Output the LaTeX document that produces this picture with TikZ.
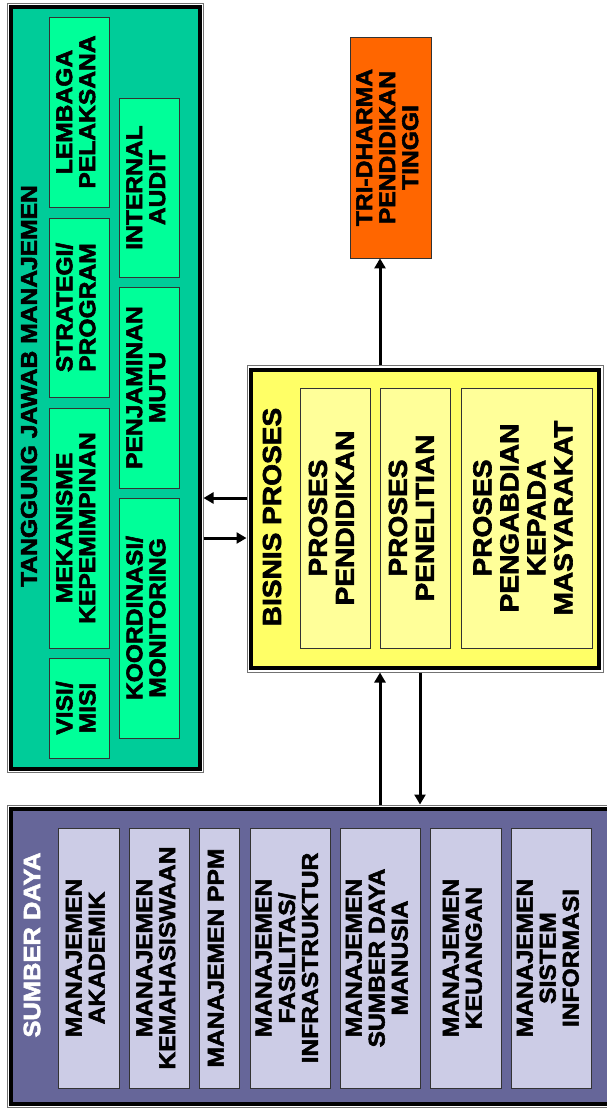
\documentclass[tikz,border=0pt]{standalone}
\usepackage{fontspec}
\usepackage{graphicx}
\usetikzlibrary{arrows.meta}
\newfontfamily\lab{Liberation Sans}[FakeStretch=1.08, BoldFeatures={FakeBold=2.4}]
\definecolor{gfill}{HTML}{00CC99}
\definecolor{gbox}{HTML}{00FF99}
\definecolor{yfill}{HTML}{FFFF66}
\definecolor{ybox}{HTML}{FFFF99}
\definecolor{ofill}{HTML}{FF6600}
\definecolor{pfill}{HTML}{666699}
\definecolor{pbox}{HTML}{CCCCE6}
\newcommand{\vt}[1]{\rotatebox{90}{\begin{tabular}{@{}c@{}}#1\end{tabular}}}
\tikzset{
  frameout/.style={draw=black!55, line width=1pt, inner sep=0pt},
  framein/.style={draw=black, line width=4pt, inner sep=0pt},
  sub/.style={draw=black!80, line width=0.8pt, inner sep=0pt, text=black,
    font=\lab\bfseries\fontsize{22.8}{23}\selectfont},
  gsub/.style={sub, fill=gbox},
  ysub/.style={sub, fill=ybox, font=\lab\bfseries\fontsize{26}{27}\selectfont},
  psub/.style={sub, fill=pbox},
  ttl/.style={rotate=90, inner sep=0pt, font=\lab\bfseries\fontsize{22.8}{23}\selectfont},
  arr/.style={line width=3pt, -{Triangle[length=10pt,width=11pt]}}
}
\begin{document}
\begin{tikzpicture}[x=1pt,y=-1pt]
\useasboundingbox (0,0) rectangle (607,1108);
% ---------- green frame ----------
\node[frameout, minimum width=196pt, minimum height=768pt] (gout) at (105,388) {};
\node[framein, fill=gfill, minimum width=189pt, minimum height=761pt] (gin) at (gout.center) {};
\node[ttl] (gttl) at (29,386) {TANGGUNG JAWAB MANAJEMEN};
\node[gsub, minimum width=60pt, minimum height=190pt] (lemb) at (79,112) {\vt{LEMBAGA\\PELAKSANA}};
\node[gsub, minimum width=60pt, minimum height=179pt] (strat) at (79,307.5) {\vt{STRATEGI/\\PROGRAM}};
\node[gsub, minimum width=60pt, minimum height=240pt] (mek) at (79,528) {\vt{MEKANISME\\KEPEMIMPINAN}};
\node[gsub, minimum width=60pt, minimum height=100pt] (visi) at (79,708) {\vt{VISI/\\MISI}};
\node[gsub, minimum width=60pt, minimum height=179pt] (audit) at (149,187.5) {\vt{INTERNAL\\AUDIT}};
\node[gsub, minimum width=60pt, minimum height=201pt] (mutu) at (149,387.5) {\vt{PENJAMINAN\\MUTU}};
\node[gsub, minimum width=60pt, minimum height=240pt] (koord) at (149,618) {\vt{KOORDINASI/\\MONITORING}};
% ---------- orange ----------
\node[sub, fill=ofill, minimum width=81pt, minimum height=221pt] (tri) at (390.5,147.5) {\vt{TRI-DHARMA\\PENDIDIKAN\\TINGGI}};
% ---------- yellow frame ----------
\node[frameout, minimum width=356pt, minimum height=307pt] (yout) at (425,518.5) {};
\node[framein, fill=yfill, minimum width=348pt, minimum height=298pt] (yin) at (yout.center) {};
\node[ttl, font=\lab\bfseries\fontsize{26}{27}\selectfont] (yttl) at (272,517) {BISNIS PROSES};
\node[ysub, minimum width=70pt, minimum height=260pt] (pend) at (335,518) {\vt{PROSES\\PENDIDIKAN}};
\node[ysub, minimum width=70pt, minimum height=260pt] (pene) at (415,518) {\vt{PROSES\\PENELITIAN}};
\node[ysub, minimum width=131pt, minimum height=260pt] (peng) at (526.5,518) {\vt{PROSES\\PENGABDIAN\\KEPADA\\MASYARAKAT}};
% ---------- purple frame ----------
\node[frameout, minimum width=623pt, minimum height=302pt] (pout) at (318.5,956) {};
\node[framein, fill=pfill, minimum width=616pt, minimum height=295pt] (pin) at (pout.center) {};
\node[ttl, text=white, font=\lab\bfseries\fontsize{23.6}{24}\selectfont] (pttl) at (32,945) {SUMBER DAYA};
\node[psub, minimum width=61pt, minimum height=260pt] (akad) at (88.5,958) {\vt{MANAJEMEN\\AKADEMIK}};
\node[psub, minimum width=60pt, minimum height=260pt] (kema) at (159,958) {\vt{MANAJEMEN\\KEMAHASISWAAN}};
\node[psub, minimum width=40pt, minimum height=260pt] (ppm) at (219,958) {\vt{MANAJEMEN PPM}};
\node[psub, minimum width=80pt, minimum height=260pt] (fas) at (290,958) {\vt{MANAJEMEN\\FASILITAS/\\INFRASTRUKTUR}};
\node[psub, minimum width=80pt, minimum height=260pt] (sdm) at (380,958) {\vt{MANAJEMEN\\SUMBER DAYA\\MANUSIA}};
\node[psub, minimum width=71pt, minimum height=260pt] (keu) at (465.5,958) {\vt{MANAJEMEN\\KEUANGAN}};
\node[psub, minimum width=80pt, minimum height=260pt] (sis) at (551,958) {\vt{MANAJEMEN\\SISTEM\\INFORMASI}};
% ---------- connectors ----------
\coordinate (c380) at (380,0);
\coordinate (c420) at (420,0);
\coordinate (r498) at (0,498);
\coordinate (r538) at (0,538);
\draw[arr] (yout.north -| c380) -- (tri.south -| c380);
\draw[arr] (pout.north -| c380) -- (yout.south -| c380);
\draw[arr] (yout.south -| c420) -- (pout.north -| c420);
\draw[arr] (yout.west |- r498) -- (gout.east |- r498);
\draw[arr] (gout.east |- r538) -- (yout.west |- r538);
\end{tikzpicture}
\end{document}
